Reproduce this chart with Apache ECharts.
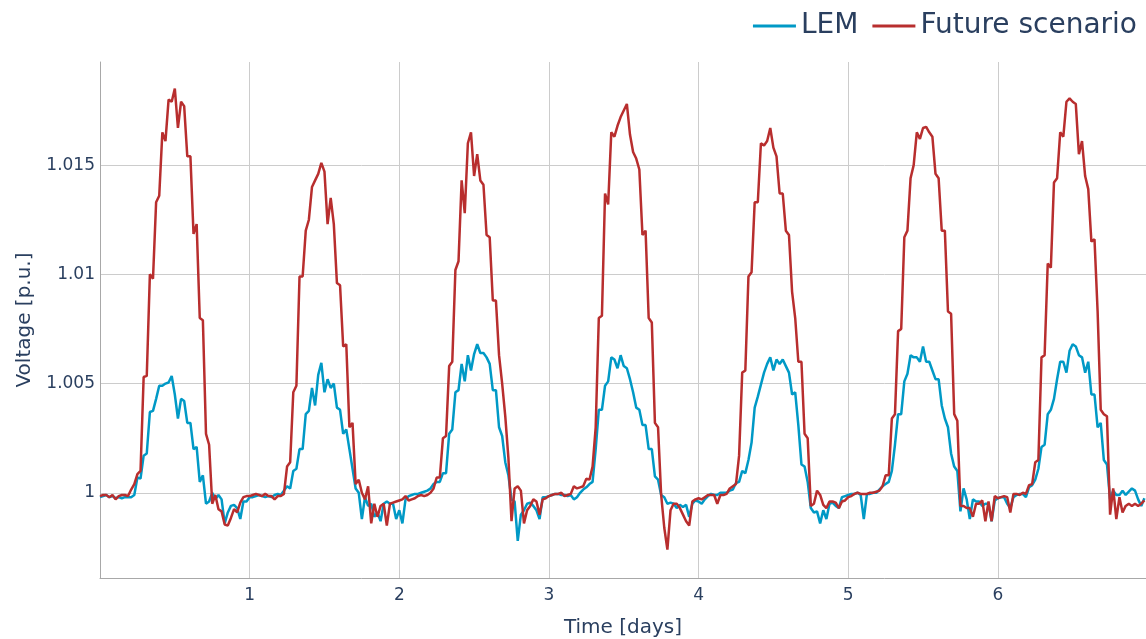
<!DOCTYPE html>
<html>
<head>
<meta charset="utf-8">
<script src="https://cdn.jsdelivr.net/npm/echarts@6/dist/echarts.min.js"></script>
<style>
html,body{margin:0;padding:0;background:#fff;}
#chart{width:1146px;height:639px;}
</style>
</head>
<body>
<div id="chart"></div>
<script>
// Half-hourly samples per day (48 per day), voltage in p.u.
const lemDay0 = [0.9998,0.99985,0.9999,0.9998,0.99985,0.99975,0.9998,0.99975,0.9998,0.9998,0.9998,0.9999,1.0007,1.00065,1.0017,1.0018,1.0037,1.00375,1.0043,1.0049,1.0049,1.005,1.00505,1.00535,1.0045,1.0034,1.0043,1.0042,1.0032,1.0032,1.002,1.0021,1.0005,1.0008,0.9995,0.9996,1.0,0.9997,0.9999,0.9997,0.9986,0.9991,0.9994,0.99945,0.9993,0.9988,0.9996,0.9996];
const lemDay1 = [0.9998,0.9998,0.99985,0.9999,0.99985,0.9998,0.99985,0.9998,0.9999,0.99995,0.9999,1.0001,1.0003,1.0002,1.001,1.0011,1.002,1.002,1.0036,1.00375,1.0048,1.004,1.0054,1.00595,1.0046,1.0052,1.0048,1.005,1.0039,1.0038,1.0027,1.0029,1.002,1.0011,1.0002,1.0,0.9988,0.9998,0.9994,0.9995,0.9989,0.9991,0.9987,0.9995,0.9996,0.9995,0.9995,0.9988];
const lemDay2 = [0.9992,0.9986,0.9997,0.99985,0.9999,0.99995,0.99995,1.0,1.00005,1.0001,1.0002,1.0004,1.0005,1.0005,1.0009,1.0009,1.0027,1.0029,1.0046,1.0047,1.0059,1.0051,1.0063,1.0056,1.00635,1.0068,1.0064,1.0064,1.0062,1.0059,1.0047,1.0047,1.003,1.0026,1.0014,1.0008,0.9997,0.9996,0.9978,0.999,0.9992,0.9995,0.99955,0.9994,0.9992,0.9988,0.9998,0.9998];
const lemDay3 = [0.99985,0.9999,0.99995,0.99995,0.9999,0.9999,0.99985,0.9999,0.9997,0.9998,1.0,1.00015,1.00025,1.0004,1.0005,1.002,1.0038,1.0038,1.0049,1.0051,1.0062,1.0061,1.0057,1.0063,1.0058,1.0057,1.0052,1.0046,1.0039,1.0038,1.0031,1.0031,1.002,1.002,1.00075,1.0006,0.9999,0.9998,0.9995,0.99955,0.9995,0.9993,0.99945,0.99935,0.99945,0.9989,0.9995,0.99965];
const lemDay4 = [0.9996,0.9995,0.9997,0.99985,0.99995,0.9999,0.9999,1.0,1.0,1.0,1.0001,1.00015,1.00045,1.0005,1.001,1.0009,1.0015,1.0023,1.0039,1.0044,1.00495,1.0055,1.0059,1.0062,1.0056,1.0061,1.0059,1.0061,1.0058,1.0055,1.0045,1.0046,1.0031,1.0013,1.0012,1.0005,0.9993,0.9991,0.99915,0.9986,0.9992,0.9988,0.9995,0.99955,0.9994,0.9993,0.9998,0.99985];
const lemDay5 = [0.9999,0.99995,0.99995,1.0,0.9999,0.9988,0.99995,0.99995,1.0,1.0,1.00015,1.0003,1.0004,1.0005,1.001,1.0022,1.0036,1.0036,1.0051,1.00545,1.0063,1.0062,1.0062,1.006,1.0067,1.006,1.006,1.0056,1.0052,1.0052,1.004,1.0034,1.003,1.0018,1.0012,1.001,0.99915,1.0002,0.9997,0.9988,0.9997,0.9996,0.9996,0.9994,0.9995,0.9995,0.9987,0.99965];
const lemDay6 = [0.99975,0.9998,0.9998,0.9995,0.9993,0.9998,0.9999,0.99995,0.99995,0.9998,1.00025,1.00035,1.0006,1.0011,1.0021,1.0022,1.0036,1.0038,1.0043,1.0052,1.006,1.006,1.0055,1.0065,1.0068,1.0067,1.0063,1.0062,1.0055,1.006,1.0045,1.0045,1.003,1.0032,1.0015,1.0013,0.9997,1.0001,0.9999,0.9999,1.0001,0.9999,1.00005,1.0002,1.0001,0.9997,0.9994,0.99975];

const futDay0 = [0.99985,0.9999,0.9999,0.9998,0.9999,0.9997,0.99985,0.9999,0.9999,0.99985,1.00015,1.0004,1.00085,1.001,1.0053,1.00535,1.01,1.0098,1.0133,1.0136,1.0165,1.0161,1.018,1.0179,1.0185,1.0167,1.0179,1.0177,1.0154,1.0154,1.01185,1.0123,1.008,1.0079,1.0027,1.0022,0.9995,0.9999,0.99925,0.99915,0.99855,0.9985,0.99885,0.99925,0.9991,0.99955,0.9998,0.99985];
const futDay1 = [0.99985,0.9999,0.99995,0.9999,0.99985,0.99995,0.99985,0.99985,0.9997,0.99985,0.99985,0.99995,1.0012,1.0014,1.0046,1.0049,1.0099,1.0099,1.012,1.0125,1.014,1.0143,1.0146,1.0151,1.0147,1.0123,1.0135,1.0123,1.0096,1.0095,1.0067,1.0068,1.003,1.0032,1.0004,1.0006,1.0,0.9997,1.0003,0.9986,0.9995,0.9989,0.9994,0.9995,0.9985,0.9995,0.99955,0.9996];
const futDay2 = [0.99965,0.9997,0.99985,0.99965,0.9997,0.99975,0.99985,0.9999,0.99985,0.9999,1.0,1.0002,1.0007,1.0007,1.0025,1.0026,1.0058,1.006,1.0102,1.0106,1.0143,1.0128,1.016,1.0165,1.0145,1.0155,1.0143,1.0141,1.0118,1.0117,1.0088,1.0088,1.0063,1.005,1.0035,1.0016,0.9987,1.0002,1.0003,1.0001,0.9986,0.9992,0.9994,0.9997,0.9996,0.999,0.9997,0.99975];
const futDay3 = [0.99985,0.9999,0.99995,0.99995,1.0,0.99985,0.9999,0.99995,1.0003,1.0002,1.00025,1.0003,1.00065,1.0006,1.0012,1.003,1.008,1.0081,1.0137,1.0132,1.0165,1.0163,1.0168,1.0172,1.0175,1.0178,1.0164,1.0156,1.0153,1.0148,1.0118,1.012,1.008,1.0078,1.0032,1.003,0.9999,0.9984,0.9974,0.9992,0.9995,0.9995,0.9993,0.999,0.9987,0.9985,0.9996,0.9997];
const futDay4 = [0.99975,0.9997,0.9998,0.9999,0.9999,0.9999,0.9995,0.9999,0.9999,0.99995,1.0002,1.0003,1.0004,1.0017,1.0055,1.0056,1.0099,1.0101,1.0133,1.0133,1.016,1.0159,1.0161,1.0167,1.0158,1.0154,1.0137,1.0137,1.012,1.0118,1.0092,1.008,1.006,1.006,1.0027,1.0025,0.9994,0.9995,1.0001,0.9999,0.99945,0.9993,0.9996,0.9996,0.99955,0.9993,0.9996,0.99965];
const futDay5 = [0.9998,0.99985,0.99995,1.0,0.99995,0.99995,0.99995,1.0,1.0,1.00005,1.0001,1.0003,1.0008,1.0008,1.0034,1.0036,1.0074,1.0075,1.0117,1.012,1.0144,1.015,1.0165,1.0162,1.0167,1.01675,1.0165,1.0163,1.0146,1.0144,1.012,1.012,1.0083,1.0082,1.0036,1.0033,0.9994,0.9994,0.9993,0.9993,0.9989,0.9995,0.9995,0.99965,0.9987,0.9996,0.9987,0.99985];
const futDay6 = [0.99975,0.9998,0.99985,0.9998,0.9991,0.99995,0.99995,0.9999,1.0,0.99995,1.00035,1.0004,1.0014,1.0015,1.0062,1.0063,1.0105,1.0103,1.0142,1.0144,1.0165,1.0163,1.0179,1.01805,1.0179,1.0178,1.0155,1.0161,1.0145,1.0139,1.0115,1.0116,1.0083,1.0038,1.0036,1.0035,0.999,1.0002,0.9988,0.9998,0.9991,0.9994,0.9995,0.9994,0.9995,0.9994,0.9995,0.99965];

const seriesNames = ['LEM', 'Future scenario'];
const samplesPerDay = 48;

const lem = [].concat(lemDay0, lemDay1, lemDay2, lemDay3, lemDay4, lemDay5, lemDay6);
const future = [].concat(futDay0, futDay1, futDay2, futDay3, futDay4, futDay5, futDay6);
const timeDays = lem.map((_, i) => i / samplesPerDay);

const textColor = '#2a3f5f';
const fontFamily = 'Verdana, "DejaVu Sans", sans-serif';

const chart = echarts.init(document.getElementById('chart'), null, {renderer: 'canvas'});
chart.setOption({
  animation: false,
  backgroundColor: '#ffffff',
  textStyle: {fontFamily: fontFamily, color: textColor},
  grid: {left: 100, right: 0, top: 62, bottom: 61, containLabel: false, outerBoundsMode: 'none'},
  legend: {
    data: seriesNames,
    top: 7, right: 4,
    icon: 'rect', itemWidth: 43, itemHeight: 3, itemGap: 14,
    textStyle: {fontSize: 28, color: textColor, fontFamily: fontFamily}
  },
  xAxis: {
    type: 'value', min: 0, max: 6.99, interval: 1,
    name: 'Time [days]', nameLocation: 'middle', nameGap: 40,
    nameTextStyle: {fontSize: 20, color: textColor, fontFamily: fontFamily},
    axisLine: {show: true, lineStyle: {color: '#a8a8a8', width: 1}},
    axisTick: {show: false},
    axisLabel: {fontSize: 17, color: textColor, margin: 9, showMinLabel: false, showMaxLabel: false, fontFamily: fontFamily},
    splitLine: {show: true, showMinLine: false, showMaxLine: false, lineStyle: {color: '#cccccc', width: 1}}
  },
  yAxis: {
    type: 'value', min: 0.9961, max: 1.01972, splitNumber: 5,
    name: 'Voltage [p.u.]', nameLocation: 'middle', nameGap: 65, nameRotate: 90,
    nameTextStyle: {fontSize: 20, color: textColor, fontFamily: fontFamily},
    axisLine: {show: true, lineStyle: {color: '#a8a8a8', width: 1}},
    axisTick: {show: false},
    axisLabel: {fontSize: 17, color: textColor, margin: 5, showMinLabel: false, showMaxLabel: false, fontFamily: fontFamily,
      formatter: v => String(+v.toFixed(4))},
    splitLine: {show: true, showMinLine: false, showMaxLine: false, lineStyle: {color: '#cccccc', width: 1}}
  },
  series: [
    {name: seriesNames[0], type: 'line', showSymbol: false, symbol: 'none',
     lineStyle: {color: '#0099C6', width: 2.5}, itemStyle: {color: '#0099C6'},
     data: timeDays.map((t, i) => [t, lem[i]])},
    {name: seriesNames[1], type: 'line', showSymbol: false, symbol: 'none',
     lineStyle: {color: '#B82E2E', width: 2.5}, itemStyle: {color: '#B82E2E'},
     data: timeDays.map((t, i) => [t, future[i]])}
  ]
});
</script>
</body>
</html>
